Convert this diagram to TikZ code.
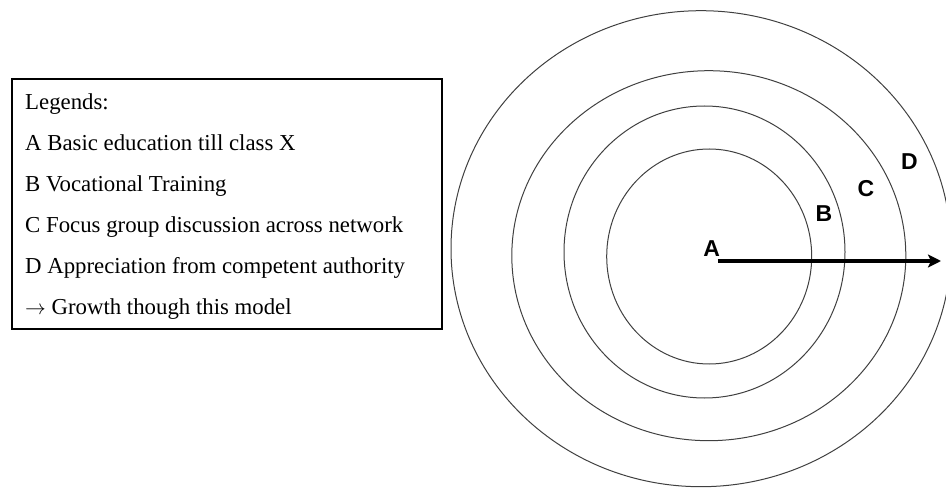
\documentclass[tikz,border=0pt]{standalone}
\usepackage{fontspec}
\usetikzlibrary{arrows.meta}
\setmainfont{Liberation Serif}
\newfontfamily\ringfont{Liberation Sans}

\begin{document}
\begin{tikzpicture}[x=1pt,y=-1pt,
  legline/.style={anchor=base west, inner sep=0pt, font=\fontsize{22.8}{27}\selectfont},
  ringlabel/.style={font=\ringfont\bfseries\fontsize{23}{27}\selectfont, inner sep=0pt},
  ring/.style={black!75, line width=1pt}]
\useasboundingbox (0,0) rectangle (946,489);

% legend box
\draw[line width=2.2pt] (12,79) rectangle (442,329);
\node[legline] (legtitle) at (25,110) {Legends:};
\node[legline] (legA) at (25,151) {A Basic education till class X};
\node[legline] (legB) at (25,192) {B Vocational Training};
\node[legline] (legC) at (25,233) {C Focus group discussion across network};
\node[legline] (legD) at (25,274) {D Appreciation from competent authority};
\node[legline] (legarrow) at (25,315) {$\rightarrow$ Growth though this model};

% rings, inside out
\draw[ring] (709.2,256.5) ellipse [x radius=102.5, y radius=107.5];
\draw[ring] (704.5,252) ellipse [x radius=140.5, y radius=146];
\draw[ring] (708.8,255.7) ellipse [x radius=197, y radius=185];
\draw[ring] (701,248.7) ellipse [x radius=250, y radius=238];

\node[ringlabel] (A) at (711.7,248.3) {A};
\node[ringlabel] (B) at (824,213.3) {B};
\node[ringlabel] (C) at (866,188.3) {C};
\node[ringlabel] (D) at (909.3,161.7) {D};

% growth arrow
\coordinate (start) at (717.7,261);
\coordinate (tip) at (941,261);
\draw[line width=3.3pt, -{Stealth[length=13pt,width=13pt,inset=3pt]}] (start) -- (tip);
\end{tikzpicture}
\end{document}
